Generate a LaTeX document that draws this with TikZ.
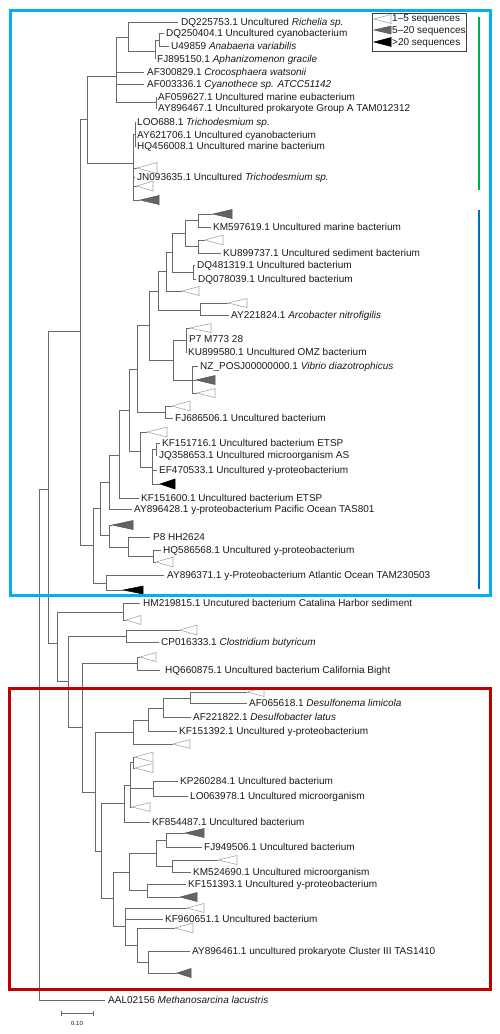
\documentclass[tikz,border=0pt]{standalone}
\usepackage{fontspec}
\setmainfont{Liberation Sans}
\definecolor{brc}{RGB}{105,105,105}
\definecolor{txc}{RGB}{25,25,25}
\definecolor{opn}{RGB}{165,165,165}
\definecolor{gfill}{RGB}{100,100,100}
\definecolor{cyanbox}{RGB}{0,176,240}
\definecolor{redbox}{RGB}{192,0,0}
\definecolor{grn}{RGB}{0,176,80}
\definecolor{dblue}{RGB}{0,112,192}
\tikzset{
  br/.style={draw=brc, line width=0.6pt},
  lab/.style={anchor=west, inner sep=0pt, text=txc, font=\fontsize{10}{12}\selectfont, text height=7.2pt, text depth=0pt},
  otri/.style={draw=opn, fill=white, line width=0.6pt},
  gtri/.style={draw=gfill!80!black, fill=gfill, line width=0.5pt},
  btri/.style={draw=black, fill=black, line width=0.5pt}
}
% internal node: name, parent, x, y
\newcommand\inode[4]{\coordinate (#1) at (#3,#4); \draw[br] (#2) |- (#1);}
% leaf: name, parent, end x, y, label x, text
\newcommand\lf[6]{\coordinate (#1) at (#3,#4); \draw[br] (#2) |- (#1); \node[lab] (#1l) at (#5,#4) {#6};}
% collapsed clade: name, parent, tip x, y, base x, half height, style
\newcommand\tri[7]{\coordinate (#1) at (#3,#4); \draw[br] (#2) |- (#1); \draw[#7] (#1) -- (#5,{#4-#6}) -- (#5,{#4+#6}) -- cycle;}
\begin{document}
\begin{tikzpicture}[x=1pt,y=-1pt]
\useasboundingbox (0,0) rectangle (500,1034);
% ---- root
\coordinate (R0) at (39,745);
\inode{X48}{R0}{48}{489}
\inode{C0}{X48}{80}{331}
% ---- cyanobacteria
\inode{C1}{C0}{87}{119}
\inode{C2}{C1}{116}{76}
\inode{C3}{C2}{128}{37}
\lf{dq225753}{C3}{178}{22}{181}{DQ225753.1 Uncultured \textit{Richelia sp.}}
\inode{C4}{C3}{155}{51}
\inode{C5}{C4}{159}{40}
\lf{dq250404}{C5}{164}{33}{166}{DQ250404.1 Uncultured cyanobacterium}
\lf{u49859}{C5}{169}{46}{171}{U49859 \textit{Anabaena variabilis}}
\lf{fj895150}{C4}{155}{59}{157}{FJ895150.1 \textit{Aphanizomenon gracile}}
\lf{af300829}{C2}{144}{72}{147}{AF300829.1 \textit{Crocosphaera watsonii}}
\lf{af003336}{C2}{144}{84}{147}{AF003336.1 \textit{Cyanothece sp. ATCC51142}}
\inode{C7}{C2}{156}{102}
\lf{af059627}{C7}{157}{97}{158}{AF059627.1 Uncultured marine eubacterium}
\lf{ay896467}{C7}{157}{108}{158}{AY896467.1 Uncultured prokaryote Group A TAM012312}
\inode{CT}{C1}{133}{163}
\inode{CT1}{CT}{135}{134}
\lf{loo688}{CT1}{136}{122}{137}{LOO688.1 \textit{Trichodesmium sp.}}
\lf{ay621706}{CT1}{136}{135}{137}{AY621706.1 Uncultured cyanobacterium}
\lf{hq456008}{CT1}{136}{146}{137}{HQ456008.1 Uncultured marine bacterium}
\tri{ctb}{CT}{137}{168}{157}{5.5}{otri}
\lf{jn093635}{CT}{135}{177}{137}{JN093635.1 Uncultured \textit{Trichodesmium sp.}}
\tri{ctc}{CT}{137}{186}{153}{5}{otri}
\tri{ctd}{CT}{140}{200}{159}{4.5}{gtri}
% ---- proteobacteria
\inode{P0}{C0}{93}{545}
\inode{Q}{P0}{106}{583}
\lf{ay896371}{Q}{164}{575}{167}{AY896371.1 y-Proteobacterium Atlantic Ocean TAM230503}
\tri{qb}{Q}{123}{590}{143}{4}{btri}
\inode{P0a}{P0}{100}{508}
\inode{P8}{P0a}{109}{535}
\tri{p8t}{P8}{112}{525}{133}{4.5}{gtri}
\inode{P9}{P8}{128}{547}
\lf{p8hh}{P9}{150}{537}{153}{P8 HH2624}
\inode{P10}{P9}{153}{556}
\lf{hq586568}{P10}{161}{550}{163}{HQ586568.1 Uncultured y-proteobacterium}
\tri{p10t}{P10}{156}{562}{173}{5}{otri}
\inode{P3}{P0a}{109}{482}
\lf{ay896428}{P3}{132}{509}{134}{AY896428.1 y-proteobacterium Pacific Ocean TAS801}
\inode{P2}{P3}{119}{455}
\lf{kf151600}{P2}{139}{498}{141}{KF151600.1 Uncultured bacterium ETSP}
\inode{P2a}{P2}{129}{410}
\inode{E1}{P2a}{140}{451}
\tri{e1t}{E1}{147}{432}{167}{5}{otri}
\inode{E2}{E1}{152}{467}
\inode{E3}{E2}{156}{449}
\lf{kf151716}{E3}{160}{443}{162}{KF151716.1 Uncultured bacterium ETSP}
\lf{jq358653}{E3}{157}{455}{159}{JQ358653.1 Uncultured microorganism AS}
\lf{ef470533}{E2}{157}{470}{159}{EF470533.1 Uncultured y-proteobacterium}
\tri{e2t}{E2}{160}{484}{175}{5}{btri}
\inode{P1}{P2a}{137}{369}
\inode{FJn}{P1}{165}{412}
\tri{fjt}{FJn}{172}{406}{190}{5}{otri}
\lf{fj686506}{FJn}{173}{418}{175}{FJ686506.1 Uncultured bacterium}
\inode{P1a}{P1}{149}{325}
\inode{P1b}{P1a}{158}{291}
\inode{ARn}{P1b}{200}{310}
\tri{arct}{ARn}{228}{303}{247}{4.5}{otri}
\lf{ay221824}{ARn}{229}{315}{231}{AY221824.1 \textit{Arcobacter nitrofigilis}}
\inode{P1d}{P1b}{166}{271}
\tri{p1dt}{P1d}{182}{291}{199}{4.5}{otri}
\inode{P1e}{P1d}{172}{252}
\inode{K2}{P1e}{185}{233}
\inode{K1}{K2}{198}{220}
\tri{k1t}{K1}{213}{214}{232}{4.5}{gtri}
\lf{km597619}{K1}{211}{227}{213}{KM597619.1 Uncultured marine bacterium}
\inode{K3}{K2}{198}{246}
\tri{k3t}{K3}{205}{240}{223}{5}{otri}
\lf{ku899737}{K3}{221}{253}{223}{KU899737.1 Uncultured sediment bacterium}
\inode{KDQ}{P1e}{193}{272}
\lf{dq481319}{KDQ}{195}{265}{197}{DQ481319.1 Uncultured bacterium}
\lf{dq078039}{KDQ}{196}{279}{198}{DQ078039.1 Uncultured bacterium}
\inode{P1c}{P1a}{173}{360}
\inode{P7}{P1c}{186}{340}
\tri{p7t}{P7}{190}{328}{211}{4.5}{otri}
\lf{p7m}{P7}{187}{339}{189}{P7 M773 28}
\lf{ku899580}{P7}{187}{352}{188}{KU899580.1 Uncultured OMZ bacterium}
\inode{NZ}{P1c}{192}{380}
\lf{nzposj}{NZ}{198}{366}{200}{NZ\_POSJ00000000.1 \textit{Vibrio diazotrophicus}}
\tri{nzg}{NZ}{196}{380}{215}{4.5}{gtri}
\tri{nzo}{NZ}{197}{393}{215}{4.5}{otri}
% ---- middle clades
\inode{M57}{X48}{57}{643}
\inode{HMn}{M57}{123}{612}
\lf{hm219815}{HMn}{140}{603}{143}{HM219815.1 Uncutured bacterium Catalina Harbor sediment}
\tri{hmt}{HMn}{126}{620}{141}{4.5}{otri}
\inode{M68}{M57}{68}{681}
\inode{CPn}{M68}{126}{636}
\tri{cpt}{CPn}{180}{630}{197}{5}{otri}
\lf{cp016333}{CPn}{159}{642}{161}{CP016333.1 \textit{Clostridium butyricum}}
\inode{M82}{M68}{82}{727}
\inode{HQn}{M82}{137}{663}
\tri{hqt}{HQn}{140}{657}{156}{4.5}{otri}
\lf{hq660875}{HQn}{160}{670}{165}{HQ660875.1 Uncultured bacterium California Bight}
% ---- red clade
\inode{Rn}{M82}{95}{792}
\inode{RA}{Rn}{133}{732}
\inode{RA1}{RA}{148}{720}
\inode{RA2}{RA1}{163}{708}
\inode{Dn}{RA2}{190}{698}
\tri{dt}{Dn}{247}{692}{264}{4.5}{otri}
\lf{af065618}{Dn}{247}{703}{249}{AF065618.1 \textit{Desulfonema limicola}}
\lf{af221822}{RA2}{191}{717}{193}{AF221822.1 \textit{Desulfobacter latus}}
\lf{kf151392}{RA1}{177}{731}{179}{KF151392.1 Uncultured y-proteobacterium}
\tri{rat}{RA}{173}{744}{190}{4.5}{otri}
\inode{RB}{Rn}{101}{851}
\inode{K1n}{RB}{124}{803}
\inode{K2n}{K1n}{130}{785}
\inode{K4n}{K2n}{133}{762}
\tri{k4a}{K4n}{135}{757}{153}{5}{otri}
\tri{k4b}{K4n}{135}{768}{153}{4.5}{otri}
\inode{K3n}{K2n}{153}{788}
\lf{kp260284}{K3n}{178}{781}{180}{KP260284.1 Uncultured bacterium}
\lf{lo063978}{K3n}{188}{796}{190}{LO063978.1 Uncultured microorganism}
\tri{k2t}{K2n}{132}{807}{150}{4.5}{otri}
\lf{kf854487}{K1n}{150}{822}{152}{KF854487.1 Uncultured bacterium}
\inode{L0}{RB}{113}{898}
\inode{L1}{L0}{129}{872}
\inode{L1a}{L1}{156}{853}
\inode{L1c}{L1a}{166}{840}
\tri{l1ct}{L1c}{185}{833}{204}{4.5}{gtri}
\lf{fj949506}{L1c}{202}{847}{204}{FJ949506.1 Uncultured bacterium}
\inode{L1d}{L1a}{172}{866}
\tri{l1dt}{L1d}{218}{860}{237}{4.5}{otri}
\lf{km524690}{L1d}{191}{872}{193}{KM524690.1 Uncultured microorganism}
\inode{L1b}{L1}{147}{890}
\lf{kf151393}{L1b}{186}{884}{188}{KF151393.1 Uncultured y-proteobacterium}
\tri{l1bt}{L1b}{180}{897}{197}{4.5}{gtri}
\inode{Lb}{L0}{125}{926}
\tri{lbt}{Lb}{187}{908}{204}{4.5}{otri}
\lf{kf960651}{Lb}{163}{919}{165}{KF960651.1 Uncultured bacterium}
\inode{L2}{Lb}{137}{945}
\tri{l2t}{L2}{175}{928}{193}{5}{otri}
\inode{L3}{L2}{148}{962}
\lf{ay896461}{L3}{190}{951}{192}{AY896461.1 uncultured prokaryote Cluster III TAS1410}
\tri{l3t}{L3}{177}{973}{191}{4.5}{gtri}
% ---- outgroup
\lf{aal02156}{R0}{105}{1000}{108}{AAL02156 \textit{Methanosarcina lacustris}}
% ---- legend
\node[draw=black!75, line width=0.6pt, minimum width=94pt, minimum height=38pt, inner sep=0pt, anchor=north west] (legend) at (372,13) {};
\coordinate (lg1) at (374,19);
\coordinate (lg2) at (374,30);
\coordinate (lg3) at (374,42);
\draw[otri] (lg1) -- (391,14.5) -- (391,23.5) -- cycle;
\draw[gtri] (lg2) -- (391,26) -- (391,34) -- cycle;
\draw[btri] (lg3) -- (391,37.5) -- (391,46.5) -- cycle;
\node[lab] (lgt1) at (392,18) {1–5 sequences};
\node[lab] (lgt2) at (392,30) {5–20 sequences};
\node[lab] (lgt3) at (392,42) {>20 sequences};
% ---- scale bar
\coordinate (sb1) at (61,1013);
\coordinate (sb2) at (93,1013);
\draw[br] (sb1) -- (sb2);
\draw[br] (61,1010.5) -- (61,1015.5);
\draw[br] (93,1010.5) -- (93,1015.5);
\node[inner sep=0pt, text=txc, font=\fontsize{6}{7}\selectfont] (sbl) at (77,1023) {0.10};
% ---- clade markers and frames
\draw[grn, line width=2pt] (479,17) -- (479,190);
\draw[dblue, line width=2.5pt] (479,210) -- (479,589);
\draw[cyanbox, line width=3pt] (10,10) rectangle (490,595);
\draw[redbox, line width=3pt] (9,688) rectangle (490,989);
\end{tikzpicture}
\end{document}
